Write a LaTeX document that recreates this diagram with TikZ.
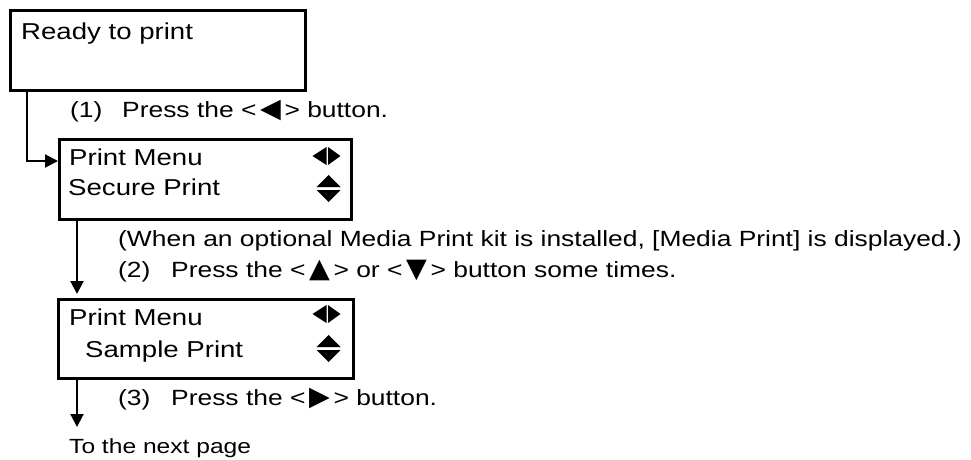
\documentclass[tikz,border=0pt]{standalone}
\usepackage{fontspec}
\setmainfont{Liberation Sans}[FakeStretch=1.2]
\newfontfamily\symfont{DejaVu Sans}
\newcommand\btn[1]{<\,{\symfont\fontsize{27}{27}\selectfont #1}\,>}
\usetikzlibrary{arrows.meta}
\begin{document}
\begin{tikzpicture}[x=1pt,y=-1pt]
\useasboundingbox (0,0) rectangle (971,459);
\tikzset{
  lcd/.style={draw, line width=3pt, anchor=north west, inner sep=0pt},
  boxtxt/.style={anchor=base west, inner sep=0pt, font=\fontsize{23}{27}\selectfont},
  steptxt/.style={anchor=base west, inner sep=0pt, font=\fontsize{22}{26}\selectfont},
  conn/.style={line width=2pt, -{Triangle[length=13pt,width=13pt]}},
  lricon/.pic={
    \fill (-16,0) -- (-2,-9) -- (-2,9) -- cycle;
    \fill (12,0) -- (-0.5,-9) -- (-0.5,9) -- cycle;
  },
  udicon/.pic={
    \fill (0,-14) -- (-12,-2) -- (12,-2) -- cycle;
    \fill (0,13) -- (-12,1) -- (12,1) -- cycle;
  }
}
% boxes
\node[lcd, minimum width=295pt, minimum height=80pt] (b1) at (9,9) {};
\node[lcd, minimum width=292pt, minimum height=80pt] (b2) at (58,138) {};
\node[lcd, minimum width=295pt, minimum height=79pt] (b3) at (57,298) {};
% texts
\node[boxtxt] (t0) at (21,39) {Ready to print};
\node[steptxt] (s1) at (70,117) {\makebox[52pt][l]{(1)}Press the \btn{◀} button.};
\node[boxtxt] (m1) at (69,165) {Print Menu};
\node[boxtxt] (m2) at (68,195) {Secure Print};
\node[steptxt] (w) at (118,246) {(When an optional Media Print kit is installed, [Media Print] is displayed.)};
\node[steptxt] (s2) at (118,277) {\makebox[53pt][l]{(2)}Press the \btn{▲} or \btn{▼} button some times.};
\node[boxtxt] (m3) at (69,325) {Print Menu};
\node[boxtxt] (m4) at (85,357) {Sample Print};
\node[steptxt] (s3) at (118,405) {\makebox[53pt][l]{(3)}Press the \btn{▶} button.};
\node[anchor=base west, inner sep=0pt, font=\fontsize{20.5}{24}\selectfont] (nx) at (69,453) {To the next page};
% icons
\pic at (328.5,156) {lricon};
\pic at (328.7,189) {udicon};
\pic at (328.5,314) {lricon};
\pic at (328.7,349) {udicon};
% connectors
\coordinate (c1) at (27,161);
\coordinate (e3) at (77,427);
\draw[conn] (b1.south -| c1) -- (c1) -- (b2.west |- c1);
\draw[conn, shorten >=4pt] ([xshift=19pt]b2.south west) -- ([xshift=20pt]b3.north west);
\draw[conn] ([xshift=20pt]b3.south west) -- (e3);
\end{tikzpicture}
\end{document}
